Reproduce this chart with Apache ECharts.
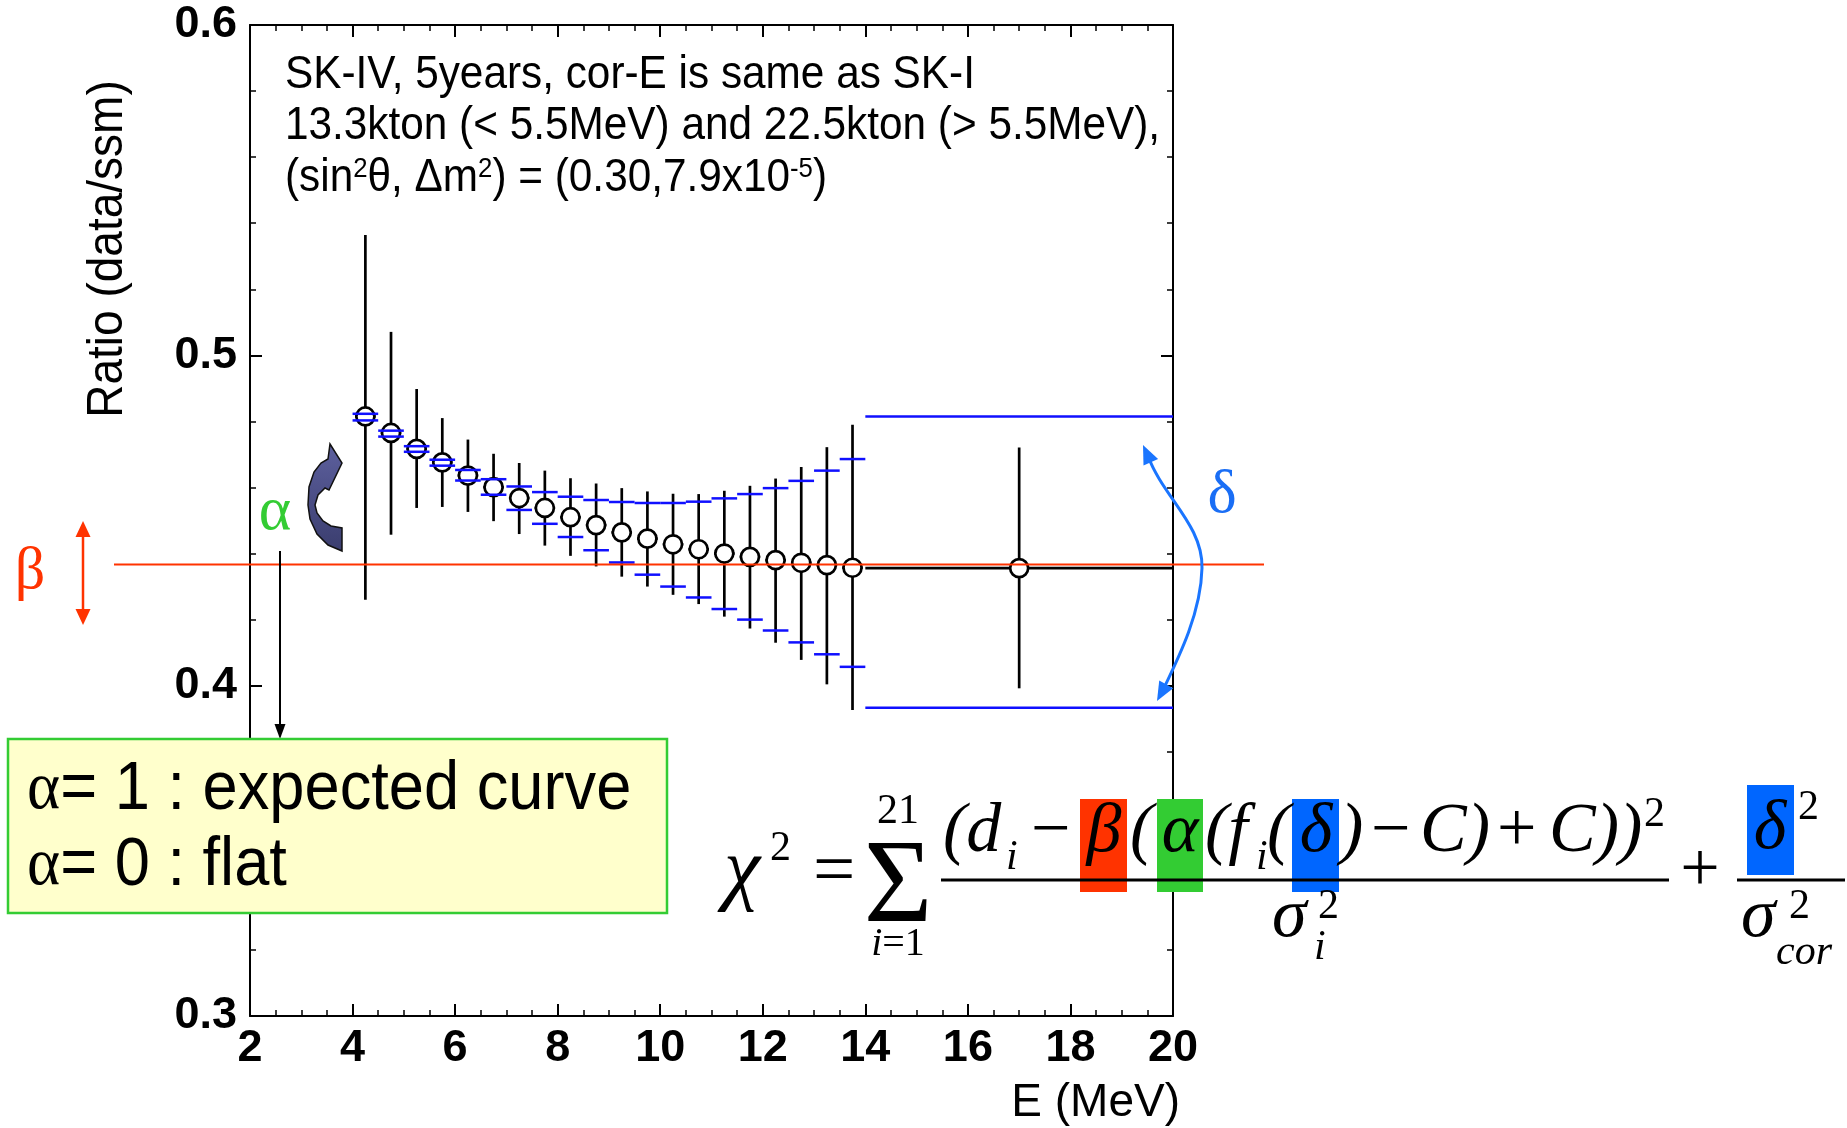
<!DOCTYPE html>
<html>
<head>
<meta charset="utf-8">
<script src="https://cdn.jsdelivr.net/npm/echarts@6/dist/echarts.min.js"></script>
<style>
  html, body { margin: 0; padding: 0; background: #fff; }
  #chart { width: 1847px; height: 1128px; }
</style>
</head>
<body>
<div id="chart"></div>
<script>
// bin centres (MeV) and measured ratio data/ssm
const energies = [4.25, 4.75, 5.25, 5.75, 6.25, 6.75, 7.25, 7.75, 8.25, 8.75, 9.25, 9.75, 10.25, 10.75, 11.25, 11.75, 12.25, 12.75, 13.25, 13.75, 17];
const ratios = [0.4815, 0.4765, 0.4717, 0.4676, 0.4636, 0.4601, 0.4568, 0.4538, 0.4510, 0.4486, 0.4464, 0.4445, 0.4428, 0.4413, 0.4400, 0.4390, 0.4380, 0.4372, 0.4365, 0.4357, 0.4356];
const statLow = [0.4260, 0.4457, 0.4538, 0.4541, 0.4526, 0.4498, 0.4459, 0.4424, 0.4393, 0.4361, 0.4330, 0.4300, 0.4275, 0.4247, 0.4209, 0.4173, 0.4130, 0.4078, 0.4004, 0.3926, 0.3992];
const statHigh = [0.5364, 0.5071, 0.4898, 0.4810, 0.4745, 0.4702, 0.4674, 0.4651, 0.4628, 0.4612, 0.4598, 0.4588, 0.4581, 0.4580, 0.4590, 0.4605, 0.4627, 0.4662, 0.4722, 0.4790, 0.4721];
const xHalfWidths = [0.2, 0.2, 0.2, 0.2, 0.2, 0.2, 0.2, 0.2, 0.2, 0.2, 0.2, 0.2, 0.2, 0.2, 0.2, 0.2, 0.2, 0.2, 0.2, 0.2, 3];
// energy-correlated systematic band (blue ticks)
const corrUpper = [0.4823, 0.4772, 0.4725, 0.4684, 0.4653, 0.4625, 0.4603, 0.4586, 0.4572, 0.4562, 0.4556, 0.4553, 0.4553, 0.4557, 0.4567, 0.4580, 0.4598, 0.4620, 0.4651, 0.4686, 0.4815];
const corrLower = [0.4803, 0.4754, 0.4708, 0.4666, 0.4621, 0.4578, 0.4532, 0.4490, 0.4450, 0.4410, 0.4373, 0.4336, 0.4300, 0.4267, 0.4232, 0.4200, 0.4167, 0.4131, 0.4095, 0.4057, 0.3933];
const binHalfWidths = [0.25, 0.25, 0.25, 0.25, 0.25, 0.25, 0.25, 0.25, 0.25, 0.25, 0.25, 0.25, 0.25, 0.25, 0.25, 0.25, 0.25, 0.25, 0.25, 0.25, 3];
const betaLevel = 0.4367;

const sans = '"Liberation Sans", Arial, sans-serif';
const serif = '"Liberation Serif", "Times New Roman", serif';

const chart = echarts.init(document.getElementById('chart'));

const xAxisBase = {
  type: 'value', min: 2, max: 20, interval: 2, gridIndex: 0,
  axisLine: { onZero: false, lineStyle: { color: '#000', width: 2 } },
  axisTick: { inside: true, length: 12, lineStyle: { color: '#000', width: 2 } },
  minorTick: { show: true, splitNumber: 4, length: 6, lineStyle: { color: '#000', width: 1.5 } },
  splitLine: { show: false }, minorSplitLine: { show: false }
};
const yAxisBase = {
  type: 'value', min: 0.3, max: 0.6, interval: 0.1, gridIndex: 0,
  axisLine: { onZero: false, lineStyle: { color: '#000', width: 2 } },
  axisTick: { inside: true, length: 12, lineStyle: { color: '#000', width: 2 } },
  minorTick: { show: true, splitNumber: 5, length: 6, lineStyle: { color: '#000', width: 1.5 } },
  splitLine: { show: false }, minorSplitLine: { show: false }
};
const tickFont = { color: '#000', fontSize: 45, fontWeight: 'bold', fontFamily: sans };

chart.setOption({
  animation: false,
  backgroundColor: '#fff',
  grid: { left: 250, right: 674, top: 25, bottom: 112, containLabel: false, outerBoundsMode: 'none' },
  xAxis: [
    Object.assign({}, xAxisBase, { position: 'bottom', axisLabel: Object.assign({ margin: 10 }, tickFont) }),
    Object.assign({}, xAxisBase, { position: 'top', axisLabel: { show: false } })
  ],
  yAxis: [
    Object.assign({}, yAxisBase, { position: 'left', axisLabel: Object.assign({ margin: 13, formatter: v => v.toFixed(1) }, tickFont) }),
    Object.assign({}, yAxisBase, { position: 'right', axisLabel: { show: false } })
  ],
  series: [
    {
      type: 'custom', z: 2, clip: false,
      data: energies.map((e, i) => [e, statLow[i], statHigh[i], xHalfWidths[i], ratios[i]]),
      renderItem(params, api) {
        const x = api.value(0), hw = api.value(3), y = api.value(4);
        const top = api.coord([x, api.value(2)]), bot = api.coord([x, api.value(1)]);
        const l = api.coord([x - hw, y]), r = api.coord([x + hw, y]);
        const st = { stroke: '#000', lineWidth: 2.7 };
        return { type: 'group', children: [
          { type: 'line', shape: { x1: top[0], y1: top[1], x2: bot[0], y2: bot[1] }, style: st },
          { type: 'line', shape: { x1: l[0], y1: l[1], x2: r[0], y2: r[1] }, style: st }
        ] };
      }
    },
    {
      type: 'scatter', z: 3,
      data: energies.map((e, i) => [e, ratios[i]]),
      symbol: 'circle', symbolSize: 18,
      itemStyle: { color: '#fff', borderColor: '#000', borderWidth: 2.7, opacity: 1 }
    },
    {
      type: 'custom', z: 4, clip: false,
      data: energies.map((e, i) => [e, corrLower[i], corrUpper[i], binHalfWidths[i]]),
      renderItem(params, api) {
        const x = api.value(0), hw = api.value(3);
        const st = { stroke: '#1010ff', lineWidth: 2.5 };
        const seg = v => {
          const a = api.coord([x - hw, v]), b = api.coord([x + hw, v]);
          return { type: 'line', shape: { x1: a[0], y1: a[1], x2: b[0], y2: b[1] }, style: st };
        };
        return { type: 'group', children: [seg(api.value(1)), seg(api.value(2))] };
      }
    }
  ]
});

function txt(x, y, text, font, fill, align, extra) {
  return Object.assign({
    type: 'text', x, y, z: 100,
    style: { text, font, fill: fill || '#000', align: align || 'left', verticalAlign: 'middle' }
  }, extra || {});
}
function tri(tip, dir, len, half, color) {
  const n = Math.hypot(dir[0], dir[1]), ux = dir[0] / n, uy = dir[1] / n;
  const bx = tip[0] - ux * len, by = tip[1] - uy * len;
  return { type: 'polygon', z: 100, shape: { points: [tip, [bx - uy * half, by + ux * half], [bx + uy * half, by - ux * half]] }, style: { fill: color } };
}
function line(x1, y1, x2, y2, color, w) {
  return { type: 'line', z: 100, shape: { x1, y1, x2, y2 }, style: { stroke: color, lineWidth: w } };
}

const betaY = chart.convertToPixel({ yAxisIndex: 0 }, betaLevel);
const it70 = 'italic 70px ' + serif;
const up70 = '70px ' + serif;
const it42 = 'italic 42px ' + serif;
const up42 = '42px ' + serif;
const red = '#ff3300', green = '#33cc33', blue = '#0066ff';
const legendRich = { g: { fontSize: 68, fontFamily: serif, fill: '#000' }, t: { fontSize: 68, fontFamily: sans, fill: '#000' } };

const graphics = [
  // header text
  txt(285, 75, 'SK-IV, 5years, cor-E is same as SK-I', '46px ' + sans, '#000', 'left', { scaleX: 0.92 }),
  txt(285, 126, '13.3kton (< 5.5MeV) and 22.5kton (> 5.5MeV),', '46px ' + sans, '#000', 'left', { scaleX: 0.92 }),
  {
    type: 'text', x: 285, y: 178, z: 100, scaleX: 0.92,
    style: {
      text: '{n|(sin}{s|2}{n|θ, Δm}{s|2}{n|) = (0.30,7.9x10}{s|-5}{n|)}',
      align: 'left', verticalAlign: 'middle',
      rich: {
        n: { fontSize: 46, fontFamily: sans, fill: '#000' },
        s: { fontSize: 28, fontFamily: sans, fill: '#000', verticalAlign: 'top' }
      }
    }
  },
  // axis names
  txt(108, 249, 'Ratio (data/ssm)', '50px ' + sans, '#000', 'center', { rotation: Math.PI / 2, scaleX: 0.92 }),
  txt(1180, 1103, 'E (MeV)', '46px ' + sans, '#000', 'right'),
  // beta
  line(114, betaY, 1264, betaY, red, 2),
  txt(30, 572, 'β', '60px ' + serif, red, 'center'),
  line(83, 534, 83, 612, red, 2.5),
  tri([83, 521], [0, -1], 16, 7.5, red),
  tri([83, 625], [0, 1], 16, 7.5, red),
  // alpha
  txt(275, 513, 'α', '62px ' + serif, green, 'center'),
  line(280, 551, 280, 726, '#000', 2),
  tri([280, 739], [0, 1], 15, 5.5, '#000'),
  {
    type: 'polygon', z: 100,
    shape: { points: [[342, 551], [328, 545], [317, 534], [310, 519], [308, 505], [309, 487], [314, 472], [321, 463], [328, 459], [330, 444], [342, 463], [329, 490], [325, 488], [318, 495], [315, 505], [317, 513], [323, 521], [331, 526], [342, 528]] },
    style: {
      fill: new echarts.graphic.LinearGradient(0, 0, 0, 1, [{ offset: 0, color: '#5d609e' }, { offset: 1, color: '#3a3d6e' }]),
      stroke: '#111', lineWidth: 1.5
    }
  },
  // delta
  txt(1222, 496, 'δ', '62px ' + serif, '#1a6ef5', 'center'),
  { type: 'bezierCurve', z: 100, shape: { x1: 1148, y1: 456, x2: 1202, y2: 568, cpx1: 1163, cpy1: 497, cpx2: 1203, cpy2: 525 }, style: { stroke: '#1a75ff', lineWidth: 3, fill: null } },
  { type: 'bezierCurve', z: 100, shape: { x1: 1202, y1: 568, x2: 1163, y2: 690, cpx1: 1201, cpy1: 612, cpx2: 1180, cpy2: 655 }, style: { stroke: '#1a75ff', lineWidth: 3, fill: null } },
  tri([1143, 445], [-9, -20], 19, 8, '#1a75ff'),
  tri([1157, 701], [-10, 18], 19, 8, '#1a75ff'),
  // legend box
  { type: 'rect', z: 100, shape: { x: 8, y: 739, width: 659, height: 174 }, style: { fill: '#ffffcc', stroke: green, lineWidth: 2.5 } },
  { type: 'text', x: 27, y: 790, z: 101, scaleX: 0.93, style: { text: '{g|α}{t|= 1 : expected curve}', verticalAlign: 'middle', rich: legendRich } },
  { type: 'text', x: 27, y: 866, z: 101, scaleX: 0.93, style: { text: '{g|α}{t|= 0 : flat}', verticalAlign: 'middle', rich: legendRich } },
  // chi2 formula
  { type: 'rect', z: 99, shape: { x: 1080, y: 799, width: 47, height: 93 }, style: { fill: red } },
  { type: 'rect', z: 99, shape: { x: 1157, y: 799, width: 46, height: 93 }, style: { fill: green } },
  { type: 'rect', z: 99, shape: { x: 1292, y: 799, width: 47, height: 93 }, style: { fill: blue } },
  { type: 'rect', z: 99, shape: { x: 1747, y: 785, width: 47, height: 90 }, style: { fill: blue } },
  txt(724, 872, 'χ', 'italic 82px ' + serif),
  txt(770, 849, '2', up42),
  txt(813, 873, '=', '75px ' + serif),
  txt(898, 890, 'Σ', '118px ' + serif, '#000', 'center'),
  txt(898, 812, '21', up42, '#000', 'center'),
  {
    type: 'text', x: 898, y: 944, z: 100,
    style: { text: '{i|i}{n|=1}', align: 'center', verticalAlign: 'middle', rich: { i: { fontSize: 40, fontFamily: serif, fontStyle: 'italic', fill: '#000' }, n: { fontSize: 40, fontFamily: serif, fill: '#000' } } }
  },
  txt(943, 833, '(d', it70),
  txt(1006, 858, 'i', it42),
  txt(1031, 833, '\u2212', up70),
  txt(1104, 833, 'β', it70, '#000', 'center'),
  txt(1130, 833, '(', it70),
  txt(1180, 833, 'α', it70, '#000', 'center'),
  txt(1205, 833, '(f', it70),
  txt(1256, 858, 'i', it42),
  txt(1267, 833, '(', it70),
  txt(1316, 833, 'δ', it70, '#000', 'center'),
  txt(1340, 833, ')', it70),
  txt(1371, 833, '\u2212', up70),
  txt(1420, 833, 'C)', it70),
  txt(1497, 833, '+', up70),
  txt(1549, 833, 'C))', it70),
  txt(1644, 815, '2', up42),
  line(941, 880, 1669, 880, '#000', 3),
  txt(1272, 918, 'σ', it70),
  txt(1318, 907, '2', up42),
  txt(1314, 948, 'i', it42),
  txt(1700, 873, '+', up70, '#000', 'center'),
  txt(1770, 830, 'δ', it70, '#000', 'center'),
  txt(1798, 808, '2', up42),
  line(1737, 880, 1845, 880, '#000', 3),
  txt(1741, 918, 'σ', it70),
  txt(1789, 907, '2', up42),
  txt(1776, 953, 'cor', it42)
];

chart.setOption({ graphic: graphics });
</script>
</body>
</html>
